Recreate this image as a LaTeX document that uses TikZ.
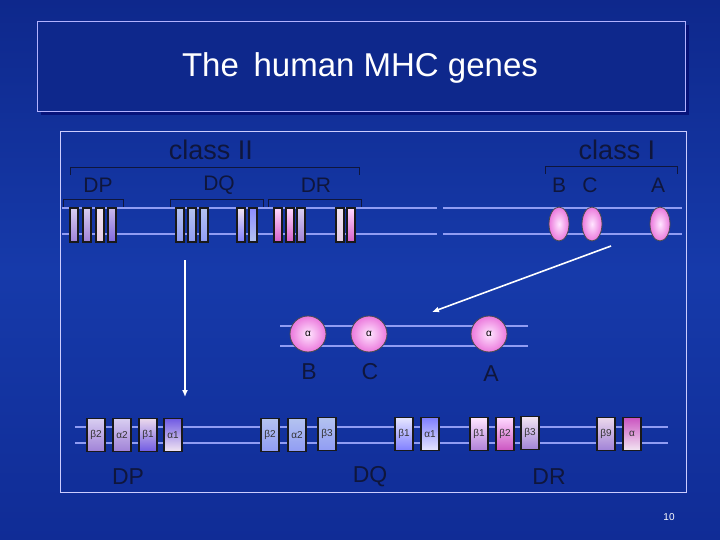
\documentclass[tikz,border=0pt]{standalone}
\usepackage{fontspec}
\setmainfont{Liberation Sans}
\usetikzlibrary{shapes.geometric,arrows.meta}
\definecolor{bgtop}{RGB}{14,40,140}
\definecolor{bgmid}{RGB}{22,58,170}
\definecolor{bgbot}{RGB}{16,44,150}
\definecolor{ink}{RGB}{15,22,60}
\definecolor{lav}{RGB}{200,185,235}
\definecolor{lavd}{RGB}{160,130,215}
\definecolor{pblue}{RGB}{180,195,240}
\definecolor{pink}{RGB}{235,120,220}
\begin{document}
\begin{tikzpicture}[x=1pt,y=-1pt,
 lbl/.style={text=ink,font=\fontsize{23}{23}\selectfont,inner sep=0},
 chrom/.style={draw=pblue!80!blue,line width=1.8pt},
 gA/.style={draw=black!90,line width=1.4pt,top color=lav!70!white,bottom color=lavd,minimum width=8pt,minimum height=34pt,inner sep=0},
 gB/.style={gA,top color=pblue,bottom color=pblue!80!blue},
 gC/.style={gA,top color=white!90!violet,bottom color=blue!50!white},
 gD/.style={gA,top color=white!85!magenta,bottom color=pink!80!violet},
 bx/.style={gA,minimum width=18pt,minimum height=33pt,font=\fontsize{10}{10}\selectfont,text=black!80},
 ov/.style={draw=black!70,line width=.8pt,inner color=white!90!magenta,outer color=pink,ellipse,inner sep=0},
 brk/.style={draw=ink,line width=.8pt},
 arr/.style={draw=white,line width=1.6pt,-{Latex[length=7pt,width=6pt]}}]
\useasboundingbox (0,0) rectangle (720,540);
\shade[top color=bgtop,bottom color=bgbot,middle color=bgmid] (0,0) rectangle (720,540);
\fill[black!60!blue,opacity=.6] (41,25) rectangle (689,115);
\node[draw=blue!30!white,line width=1pt,fill=bgtop,minimum width=648pt,minimum height=90pt,anchor=north west,inner sep=0] (tb) at (37,21) {};
\node[text=white,font=\fontsize{33}{33}\selectfont] (title) at (360,68) {The\, human MHC genes};
\node[draw=blue!20!white,line width=1pt,minimum width=626pt,minimum height=361pt,anchor=north west,inner sep=0] (panel) at (60,131) {};
% top chromosome
\draw[chrom] (62,208) -- (437,208) (443,208) -- (682,208);
\draw[chrom] (62,234) -- (437,234) (443,234) -- (682,234);
% brackets
\draw[brk] (70,175) |- (359,167) -- (359,175);
\draw[brk] (545,174) |- (677,166) -- (677,174);
\draw[brk] (63,207) |- (123,199) -- (123,207);
\draw[brk] (170,207) |- (263,199) -- (263,207);
\draw[brk] (268,207) |- (361,199) -- (361,207);
\node[lbl,font=\fontsize{27}{27}\selectfont] (c2) at (211,150) {class II};
\node[lbl,font=\fontsize{27}{27}\selectfont] (c1) at (617,150) {class I};
\node[lbl,font=\fontsize{21}{21}\selectfont] (tdp) at (98,185) {DP};
\node[lbl,font=\fontsize{21}{21}\selectfont] (tdq) at (219,185) {DQ};
\node[lbl,font=\fontsize{21}{21}\selectfont] (tdr) at (316,185) {DR};
\node[lbl,font=\fontsize{21}{21}\selectfont] (tb1) at (559,185) {B};
\node[lbl,font=\fontsize{21}{21}\selectfont] (tc1) at (590,185) {C};
\node[lbl,font=\fontsize{21}{21}\selectfont] (ta1) at (658,185) {A};
% top genes
\node[gA] (p1) at (74,225) {};
\node[gA] (p2) at (87,225) {};
\node[gA,top color=white!90!violet,bottom color=white!80!violet] (p3) at (100,225) {};
\node[gC,top color=lav,bottom color=lavd!80!blue] (p4) at (112,225) {};
\node[gB] (q1) at (180,225) {};
\node[gB] (q2) at (192,225) {};
\node[gB] (q3) at (204,225) {};
\node[gC] (q4) at (241,225) {};
\node[gC,top color=blue!45!white,bottom color=pblue] (q5) at (253,225) {};
\node[gD] (r1) at (278,225) {};
\node[gD] (r2) at (290,225) {};
\node[gA] (r3) at (301,225) {};
\node[gA,top color=white!90!violet,bottom color=white!80!violet] (r4) at (340,225) {};
\node[gD] (r5) at (351,225) {};
\node[ov,minimum width=20pt,minimum height=34pt] (eB) at (559,224) {};
\node[ov,minimum width=20pt,minimum height=34pt] (eC) at (592,224) {};
\node[ov,minimum width=20pt,minimum height=34pt] (eA) at (660,224) {};
% arrows
\coordinate (v1) at (185,260); \coordinate (v2) at (185,397);
\draw[arr] (v1) -- (v2);
\coordinate (d1) at (611,246); \coordinate (d2) at (432,312);
\draw[arr] (d1) -- (d2);
% middle
\draw[chrom] (280,326) -- (528,326);
\draw[chrom] (280,346) -- (528,346);
\node[ov,circle,minimum size=36pt,font=\fontsize{10}{10}\selectfont,text=black] (mB) at (308,334) {α};
\node[ov,circle,minimum size=36pt,font=\fontsize{10}{10}\selectfont,text=black] (mC) at (369,334) {α};
\node[ov,circle,minimum size=36pt,font=\fontsize{10}{10}\selectfont,text=black] (mA) at (489,334) {α};
\node[lbl] (lB) at (309,372) {B};
\node[lbl] (lC) at (370,372) {C};
\node[lbl] (lA) at (491,374) {A};
% bottom
\draw[chrom] (75,427) -- (668,427);
\draw[chrom] (75,443) -- (668,443);
\node[bx] (b1) at (96,435) {β2};
\node[bx] (b2) at (122,435) {α2};
\node[bx,top color=white!85!violet,bottom color=lavd!70!blue] (b3) at (148,435) {β1};
\node[bx,top color=lavd!70!blue,bottom color=white!90!violet] (b4) at (173,435) {α1};
\node[bx,gB,minimum width=18pt,minimum height=33pt,font=\fontsize{10}{10}\selectfont] (b5) at (270,435) {β2};
\node[bx,gB,minimum width=18pt,minimum height=33pt,font=\fontsize{10}{10}\selectfont] (b6) at (297,435) {α2};
\node[bx,gB,minimum width=18pt,minimum height=33pt,font=\fontsize{10}{10}\selectfont] (b7) at (327,434) {β3};
\node[bx,top color=white!90!blue,bottom color=blue!50!white] (b8) at (404,434) {β1};
\node[bx,top color=blue!50!white,bottom color=white!90!blue] (b9) at (430,434) {α1};
\node[bx,top color=white!90!magenta,bottom color=lavd!80!pink] (b10) at (479,434) {β1};
\node[bx,top color=white!85!magenta,bottom color=pink!70!violet] (b11) at (505,434) {β2};
\node[bx,top color=white!90!violet,bottom color=lavd] (b12) at (530,433) {β3};
\node[bx,top color=white!85!violet,bottom color=lavd] (b13) at (606,434) {β9};
\node[bx,top color=pink!70!violet,bottom color=white!90!violet] (b14) at (632,434) {α};
\node[lbl] (lDP) at (128,477) {DP};
\node[lbl] (lDQ) at (370,477) {DQ};
\node[lbl] (lDR) at (549,477) {DR};
\node[text=white,font=\fontsize{10}{10}\selectfont] (pg) at (669,517) {10};
\end{tikzpicture}
\end{document}
